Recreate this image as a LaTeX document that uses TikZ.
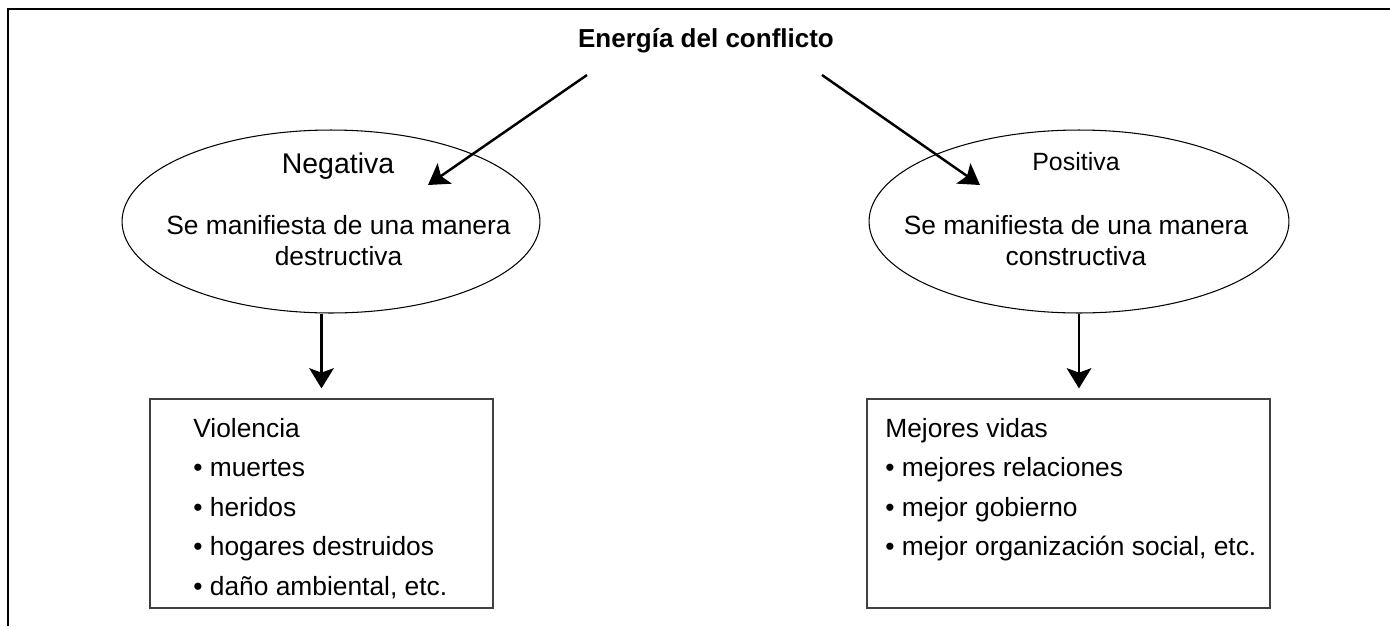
\documentclass[tikz,border=0pt]{standalone}
\usepackage{fontspec}
\setmainfont{Liberation Sans}
\usetikzlibrary{shapes,arrows.meta,positioning,calc}

\begin{document}
\begin{tikzpicture}[x=0.02cm,y=-0.02cm,
  arr/.style={-{Stealth[length=11.5pt,width=14pt,inset=2.5pt]},line width=1.4pt},
  oval/.style={draw,ellipse,line width=0.6pt,minimum height=3.66cm},
  listbox/.style={draw=black!75,rectangle,line width=0.7pt,minimum height=4.18cm},
  body/.style={font=\fontsize{15}{17.6}\selectfont,align=center,inner sep=0pt},
  item/.style={font=\fontsize{15}{18}\selectfont,anchor=base west,inner sep=0pt}]
  \useasboundingbox (0,0) rectangle (1390,626);
  \draw[line width=1.2pt] (8,626) -- (8,9) -- (1390,9);

  \node[font=\bfseries\fontsize{14.8}{17}\selectfont,anchor=base,inner sep=0pt] (title) at (706,47) {Energía del conflicto};

  \node[oval,minimum width=8.36cm] (negEll) at (331,221.5) {};
  \node[oval,minimum width=8.4cm] (posEll) at (1079,221.5) {};

  \node[font=\fontsize{16.2}{19}\selectfont,anchor=base,inner sep=0pt] (negLabel) at (338,173) {Negativa};
  \node[font=\fontsize{14.2}{17}\selectfont,anchor=base,inner sep=0pt] (posLabel) at (1076,170) {Positiva};
  \node[body] (negText) at (338.5,241) {Se manifiesta de una manera\\destructiva};
  \node[body] (posText) at (1076,241) {Se manifiesta de una manera\\constructiva};

  \node[listbox,minimum width=6.86cm] (negBox) at (321.5,503.5) {};
  \node[listbox,minimum width=8.06cm] (posBox) at (1068.5,503.5) {};

  \foreach \txt [count=\i] in {Violencia, • muertes, • heridos, • hogares destruidos, {• daño ambiental, etc.}}
    \node[item] (neg\i) at (193,{397.5+39.5*\i}) {\txt};
  \foreach \txt [count=\i] in {Mejores vidas, • mejores relaciones, • mejor gobierno, {• mejor organización social, etc.}}
    \node[item] (pos\i) at (885,{397.5+39.5*\i}) {\txt};

  \coordinate (negFrom) at (587,75);
  \coordinate (negTo) at (428,185);
  \coordinate (posFrom) at (822,75);
  \coordinate (posTo) at (980,185);

  \draw[arr] (negFrom) -- (negTo);
  \draw[arr] (posFrom) -- (posTo);

  \draw[arr,shorten >=0.2cm] (negEll.south -| negBox.north) -- (negBox.north);
  \draw[arr,shorten >=0.2cm] (posEll.south) -- (posEll.south |- posBox.north);

\end{tikzpicture}
\end{document}
